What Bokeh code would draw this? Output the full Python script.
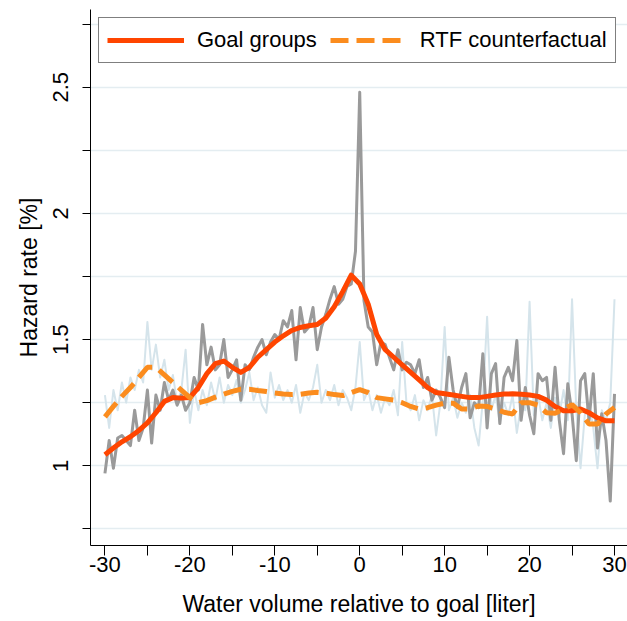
import numpy as np
from bokeh.plotting import figure
from bokeh.models import FixedTicker, CustomJSTickFormatter, Range1d
from bokeh.embed import file_html
from bokeh.resources import INLINE

# ---- data ----
# raw hazard rates, every 0.5 liter from -30 to 30
goal_raw = [
    0.97, 1.10, 0.99, 1.11, 1.12, 1.10, 1.08, 1.22, 1.10, 1.15,
    1.30, 1.09, 1.28, 1.22, 1.33, 1.26, 1.30, 1.24, 1.28, 1.22,
    1.25, 1.35, 1.30, 1.56, 1.40, 1.47, 1.38, 1.40, 1.50, 1.35,
    1.38, 1.42, 1.26, 1.40, 1.38, 1.43, 1.47, 1.50, 1.44, 1.49,
    1.52, 1.50, 1.575, 1.55, 1.615, 1.42, 1.627, 1.53, 1.55, 1.627,
    1.46, 1.55, 1.60, 1.66, 1.71, 1.64, 1.66, 1.71, 1.72, 1.85,
    2.48,
    1.655, 1.55, 1.53, 1.40, 1.49, 1.48, 1.43, 1.38, 1.46, 1.38,
    1.41, 1.40, 1.365, 1.42, 1.31, 1.35, 1.26, 1.30, 1.27, 1.23,
    1.43, 1.30, 1.23, 1.31, 1.365, 1.19, 1.25, 1.23, 1.444, 1.15,
    1.365, 1.405, 1.167, 1.35, 1.39, 1.337, 1.496, 1.18, 1.31, 1.20,
    1.127, 1.365, 1.337, 1.35, 1.18, 1.39, 1.18, 1.048, 1.325, 1.206,
    1.02, 1.337, 1.365, 1.18, 1.365, 1.07, 1.206, 1.10, 0.86, 1.285,
]
rtf_raw = [
    1.28, 1.15, 1.30, 1.22, 1.33, 1.25, 1.35, 1.30, 1.38, 1.33,
    1.57, 1.38, 1.48, 1.35, 1.42, 1.30, 1.36, 1.25, 1.30, 1.46,
    1.17, 1.30, 1.22, 1.30, 1.24, 1.33, 1.26, 1.35, 1.25, 1.32,
    1.28, 1.34, 1.25, 1.30, 1.37, 1.26, 1.31, 1.24, 1.21, 1.37,
    1.27, 1.32, 1.26, 1.30, 1.25, 1.32, 1.21, 1.29, 1.26, 1.31,
    1.40, 1.25, 1.30, 1.26, 1.32, 1.24, 1.30, 1.27, 1.22, 1.31,
    1.49,
    1.26, 1.30, 1.22, 1.28, 1.21, 1.27, 1.24, 1.30, 1.20, 1.49,
    1.25, 1.22, 1.28, 1.18, 1.26, 1.22, 1.28, 1.12, 1.25, 1.55,
    1.22, 1.27, 1.19, 1.25, 1.21, 1.28, 1.15, 1.08, 1.26, 1.59,
    1.22, 1.28, 1.17, 1.25, 1.20, 1.28, 1.13, 1.24, 1.22, 1.65,
    1.20, 1.28, 1.18, 1.25, 1.15, 1.27, 1.20, 1.30, 1.18, 1.66,
    1.22, 0.99, 1.20, 1.25, 1.15, 0.99, 1.22, 1.18, 1.25, 1.66,
]
# smoothed series, every liter from -30 to 30
goal_smooth = [
    1.044, 1.07, 1.095, 1.115, 1.14, 1.17, 1.21, 1.255, 1.27, 1.268,
    1.27, 1.31, 1.365, 1.405, 1.415, 1.39, 1.37, 1.39, 1.43, 1.46,
    1.49, 1.515, 1.536, 1.548, 1.555, 1.56, 1.585, 1.63, 1.69, 1.755,
    1.72,
    1.64, 1.52, 1.46, 1.43, 1.40, 1.37, 1.34, 1.31, 1.29, 1.285,
    1.28, 1.275, 1.27, 1.27, 1.275, 1.28, 1.284, 1.285, 1.283, 1.28,
    1.275, 1.26, 1.235, 1.218, 1.218, 1.225, 1.21, 1.19, 1.178, 1.178,
]
rtf_smooth = [
    1.194, 1.235, 1.275, 1.31, 1.35, 1.39, 1.39, 1.36, 1.33, 1.30,
    1.27, 1.25, 1.258, 1.272, 1.284, 1.295, 1.303, 1.303, 1.298, 1.294,
    1.288, 1.284, 1.282, 1.283, 1.288, 1.291, 1.288, 1.282, 1.278, 1.29,
    1.302,
    1.29, 1.27, 1.265, 1.26, 1.25, 1.235, 1.225, 1.23, 1.24, 1.248,
    1.248, 1.225, 1.225, 1.237, 1.235, 1.225, 1.212, 1.205, 1.25, 1.25,
    1.24, 1.21, 1.208, 1.225, 1.242, 1.21, 1.165, 1.165, 1.205, 1.231,
]
x_raw = np.round(np.arange(-30, 30.001, 0.5), 2)
x_smooth = np.arange(-30, 31, 1)

x_major = [-30, -20, -10, 0, 10, 20, 30]
x_minor = [-25, -15, -5, 5, 15, 25]
y_major = [1, 1.5, 2, 2.5]
y_minor = [0.75, 1.25, 1.75, 2.25, 2.75]

FONT = "Liberation Sans"

p = figure(
    width=627, height=621, output_backend="svg", toolbar_location=None,
    x_range=Range1d(-31.7, 31.53), y_range=Range1d(0.684, 2.808),
    min_border_left=90, min_border_right=0, min_border_top=9, min_border_bottom=76,
    outline_line_color=None, background_fill_color="white", border_fill_color="white",
)

p.line(x_raw, rtf_raw, line_color="#D5E4EB", line_width=2, line_join="round")
p.line(x_raw, goal_raw, line_color="#9A9A9A", line_width=3, line_join="round")
p.line(x_smooth, goal_smooth, line_color="#FF4500", line_width=5, line_join="round",
       legend_label="Goal groups")
p.line(x_smooth, rtf_smooth, line_color="#FB8C1E", line_width=5, line_dash="18 8",
       legend_label="RTF counterfactual")

# axes
p.xaxis.ticker = FixedTicker(ticks=x_major, minor_ticks=x_minor)
p.yaxis.ticker = FixedTicker(ticks=y_major, minor_ticks=y_minor)
p.yaxis.formatter = CustomJSTickFormatter(code="return tick.toString()")
p.xaxis.formatter = CustomJSTickFormatter(code="return tick.toString()")
for ax in (p.xaxis, p.yaxis):
    ax.axis_line_color = "black"
    ax.axis_line_width = 1
    ax.major_tick_line_color = "black"
    ax.minor_tick_line_color = "black"
    ax.major_tick_in = 0
    ax.minor_tick_in = 0
    ax.major_label_text_font = FONT
    ax.major_label_text_font_size = "22px"
    ax.major_label_text_color = "black"
    ax.axis_label_text_font = FONT
    ax.axis_label_text_font_size = "23px"
    ax.axis_label_text_font_style = "normal"
    ax.axis_label_text_color = "black"

p.xaxis.axis_label = "Water volume relative to goal [liter]"
p.xaxis.major_tick_out = 10
p.xaxis.minor_tick_out = 10
p.xaxis.major_label_standoff = 1
p.xaxis.axis_label_standoff = 16

p.yaxis.axis_label = "Hazard rate [%]"
p.yaxis.major_tick_out = 8
p.yaxis.minor_tick_out = 8
p.yaxis.major_label_orientation = "vertical"
p.yaxis.major_label_standoff = 14
p.yaxis.axis_label_standoff = 9

p.xgrid.grid_line_color = None
p.ygrid.grid_line_color = "#E4EDF1"
p.ygrid.grid_line_width = 1.5
p.ygrid.minor_grid_line_color = "#E4EDF1"
p.ygrid.minor_grid_line_width = 1.5

# legend
lg = p.legend[0]
lg.orientation = "horizontal"
lg.location = "top_left"
lg.margin = 8
lg.padding = 8
lg.spacing = 13
lg.glyph_width = 77
lg.glyph_height = 28
lg.label_height = 28
lg.label_standoff = 13
lg.label_text_font = FONT
lg.label_text_font_size = "22px"
lg.label_text_color = "black"
lg.border_line_color = "black"
lg.border_line_width = 1
lg.background_fill_color = "white"
lg.background_fill_alpha = 1.0

open("out.html", "w").write(file_html(p, INLINE))
